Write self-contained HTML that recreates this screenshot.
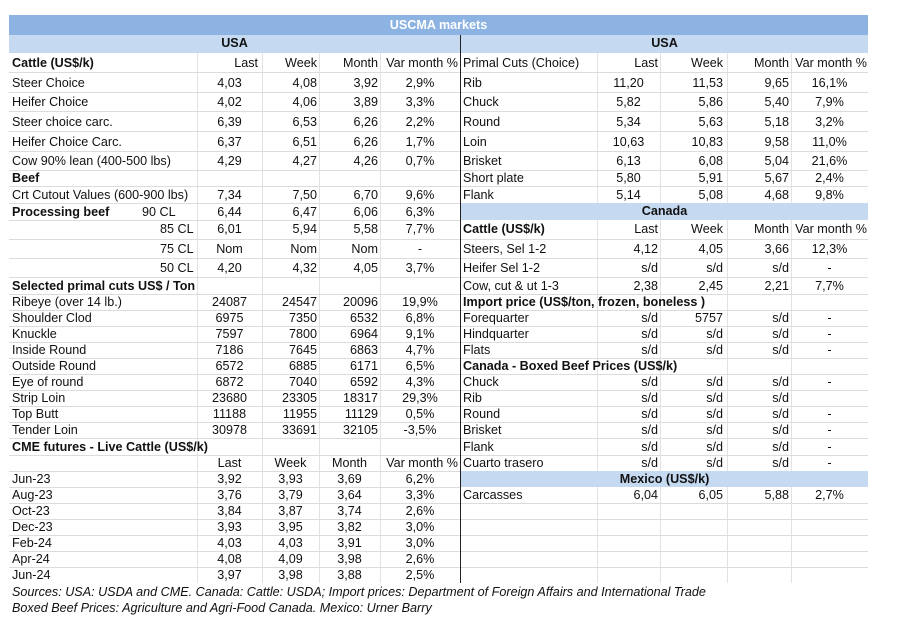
<!DOCTYPE html>
<html><head><meta charset="utf-8"><style>
body{margin:0;width:897px;height:633px;background:#fff;position:relative;font-family:"Liberation Sans",Arial,sans-serif;font-size:12.6px;color:#111;overflow:hidden}
.r{position:absolute;left:0;width:897px;height:16px;line-height:16px;z-index:3}
.r span{position:absolute;top:0;white-space:nowrap}
.a{left:12px}.b{left:197px;width:65px;text-align:center}.c{left:262px;width:55px;text-align:right}.d{left:319px;width:59px;text-align:right}.e{left:380px;width:80px;text-align:center}
.cc{left:262px;width:57px;text-align:center}.dc{left:319px;width:61px;text-align:center}
.A{left:463px}.B{left:597px;width:61px;text-align:right}.Bc{left:597px;width:63px;text-align:center}.C{left:660px;width:63px;text-align:right}.D{left:727px;width:62px;text-align:right}.E{left:791px;width:77px;text-align:center}
.bo{font-weight:bold}
.h{position:absolute;height:1px;background:#dcdcdc}
.v{position:absolute;width:1px;background:#e2e2e2}
.band{position:absolute;background:#c5d9f1;text-align:center;font-weight:bold;line-height:17px;z-index:2}
</style></head><body>
<div style="position:absolute;left:9px;top:15px;width:859px;height:20px;background:#8db3e2;color:#fff;font-weight:bold;text-align:center;line-height:20px">USCMA markets</div>
<div class="band" style="left:9px;top:35px;width:451px;height:18px">USA</div>
<div class="band" style="left:461px;top:35px;width:407px;height:18px">USA</div>
<div class="band" style="left:461px;top:203px;width:407px;height:17px">Canada</div>
<div class="band" style="left:461px;top:471px;width:407px;height:16px">Mexico (US$/k)</div>
<div class="v" style="left:197px;top:53px;height:530px"></div>
<div class="v" style="left:262px;top:53px;height:530px"></div>
<div class="v" style="left:319px;top:53px;height:530px"></div>
<div class="v" style="left:380px;top:53px;height:530px"></div>
<div class="v" style="left:597px;top:53px;height:530px"></div>
<div class="v" style="left:660px;top:53px;height:530px"></div>
<div class="v" style="left:727px;top:53px;height:530px"></div>
<div class="v" style="left:791px;top:53px;height:530px"></div>
<div style="position:absolute;left:460px;top:35px;width:1px;height:548px;background:#222;z-index:4"></div>
<div class="h" style="left:9px;top:72px;width:451px"></div><div class="h" style="left:9px;top:92px;width:451px"></div><div class="h" style="left:9px;top:111px;width:451px"></div><div class="h" style="left:9px;top:131px;width:451px"></div><div class="h" style="left:9px;top:151px;width:451px"></div><div class="h" style="left:9px;top:170px;width:451px"></div><div class="h" style="left:9px;top:186px;width:451px"></div><div class="h" style="left:9px;top:203px;width:451px"></div><div class="h" style="left:9px;top:220px;width:451px"></div><div class="h" style="left:9px;top:239px;width:451px"></div><div class="h" style="left:9px;top:258px;width:451px"></div><div class="h" style="left:9px;top:277px;width:451px"></div><div class="h" style="left:9px;top:294px;width:451px"></div><div class="h" style="left:9px;top:310px;width:451px"></div><div class="h" style="left:9px;top:326px;width:451px"></div><div class="h" style="left:9px;top:342px;width:451px"></div><div class="h" style="left:9px;top:358px;width:451px"></div><div class="h" style="left:9px;top:374px;width:451px"></div><div class="h" style="left:9px;top:390px;width:451px"></div><div class="h" style="left:9px;top:406px;width:451px"></div><div class="h" style="left:9px;top:422px;width:451px"></div><div class="h" style="left:9px;top:438px;width:451px"></div><div class="h" style="left:9px;top:455px;width:451px"></div><div class="h" style="left:9px;top:471px;width:451px"></div><div class="h" style="left:9px;top:487px;width:451px"></div><div class="h" style="left:9px;top:503px;width:451px"></div><div class="h" style="left:9px;top:519px;width:451px"></div><div class="h" style="left:9px;top:535px;width:451px"></div><div class="h" style="left:9px;top:551px;width:451px"></div><div class="h" style="left:9px;top:567px;width:451px"></div>
<div class="h" style="left:461px;top:72px;width:407px"></div><div class="h" style="left:461px;top:92px;width:407px"></div><div class="h" style="left:461px;top:111px;width:407px"></div><div class="h" style="left:461px;top:131px;width:407px"></div><div class="h" style="left:461px;top:151px;width:407px"></div><div class="h" style="left:461px;top:170px;width:407px"></div><div class="h" style="left:461px;top:186px;width:407px"></div><div class="h" style="left:461px;top:239px;width:407px"></div><div class="h" style="left:461px;top:258px;width:407px"></div><div class="h" style="left:461px;top:277px;width:407px"></div><div class="h" style="left:461px;top:294px;width:407px"></div><div class="h" style="left:461px;top:310px;width:407px"></div><div class="h" style="left:461px;top:326px;width:407px"></div><div class="h" style="left:461px;top:342px;width:407px"></div><div class="h" style="left:461px;top:358px;width:407px"></div><div class="h" style="left:461px;top:374px;width:407px"></div><div class="h" style="left:461px;top:390px;width:407px"></div><div class="h" style="left:461px;top:406px;width:407px"></div><div class="h" style="left:461px;top:422px;width:407px"></div><div class="h" style="left:461px;top:438px;width:407px"></div><div class="h" style="left:461px;top:455px;width:407px"></div><div class="h" style="left:461px;top:503px;width:407px"></div><div class="h" style="left:461px;top:519px;width:407px"></div><div class="h" style="left:461px;top:535px;width:407px"></div><div class="h" style="left:461px;top:551px;width:407px"></div><div class="h" style="left:461px;top:567px;width:407px"></div>

<div class="r" style="top:55px"><span class="a bo">Cattle (US$/k)</span><span class="c" style="left:197px;width:61px">Last</span><span class="c">Week</span><span class="d">Month</span><span class="e" style="left:382px;width:76px;text-align:right">Var month %</span></div>
<div class="r" style="top:75px"><span class="a">Steer Choice</span><span class="b">4,03</span><span class="c">4,08</span><span class="d">3,92</span><span class="e">2,9%</span></div>
<div class="r" style="top:94px"><span class="a">Heifer Choice</span><span class="b">4,02</span><span class="c">4,06</span><span class="d">3,89</span><span class="e">3,3%</span></div>
<div class="r" style="top:114px"><span class="a">Steer choice carc.</span><span class="b">6,39</span><span class="c">6,53</span><span class="d">6,26</span><span class="e">2,2%</span></div>
<div class="r" style="top:134px"><span class="a">Heifer Choice Carc.</span><span class="b">6,37</span><span class="c">6,51</span><span class="d">6,26</span><span class="e">1,7%</span></div>
<div class="r" style="top:153px"><span class="a">Cow 90% lean (400-500 lbs)</span><span class="b">4,29</span><span class="c">4,27</span><span class="d">4,26</span><span class="e">0,7%</span></div>
<div class="r" style="top:170px"><span class="a bo">Beef</span></div>
<div class="r" style="top:187px"><span class="a">Crt Cutout Values (600-900 lbs)</span><span class="b">7,34</span><span class="c">7,50</span><span class="d">6,70</span><span class="e">9,6%</span></div>
<div class="r" style="top:204px"><span class="a bo">Processing beef</span><span style="left:142px">90 CL</span><span class="b">6,44</span><span class="c">6,47</span><span class="d">6,06</span><span class="e">6,3%</span></div>
<div class="r" style="top:221px"><span style="left:160px">85 CL</span><span class="b">6,01</span><span class="c">5,94</span><span class="d">5,58</span><span class="e">7,7%</span></div>
<div class="r" style="top:241px"><span style="left:160px">75 CL</span><span class="b">Nom</span><span class="c">Nom</span><span class="d">Nom</span><span class="e">-</span></div>
<div class="r" style="top:260px"><span style="left:160px">50 CL</span><span class="b">4,20</span><span class="c">4,32</span><span class="d">4,05</span><span class="e">3,7%</span></div>
<div class="r" style="top:278px"><span class="a bo">Selected primal cuts US$ / Ton</span></div>
<div class="r" style="top:294px"><span class="a">Ribeye (over 14 lb.)</span><span class="b">24087</span><span class="c">24547</span><span class="d">20096</span><span class="e">19,9%</span></div>
<div class="r" style="top:310px"><span class="a">Shoulder Clod</span><span class="b">6975</span><span class="c">7350</span><span class="d">6532</span><span class="e">6,8%</span></div>
<div class="r" style="top:326px"><span class="a">Knuckle</span><span class="b">7597</span><span class="c">7800</span><span class="d">6964</span><span class="e">9,1%</span></div>
<div class="r" style="top:342px"><span class="a">Inside Round</span><span class="b">7186</span><span class="c">7645</span><span class="d">6863</span><span class="e">4,7%</span></div>
<div class="r" style="top:358px"><span class="a">Outside Round</span><span class="b">6572</span><span class="c">6885</span><span class="d">6171</span><span class="e">6,5%</span></div>
<div class="r" style="top:374px"><span class="a">Eye of round</span><span class="b">6872</span><span class="c">7040</span><span class="d">6592</span><span class="e">4,3%</span></div>
<div class="r" style="top:390px"><span class="a">Strip Loin</span><span class="b">23680</span><span class="c">23305</span><span class="d">18317</span><span class="e">29,3%</span></div>
<div class="r" style="top:406px"><span class="a">Top Butt</span><span class="b">11188</span><span class="c">11955</span><span class="d">11129</span><span class="e">0,5%</span></div>
<div class="r" style="top:422px"><span class="a">Tender Loin</span><span class="b">30978</span><span class="c">33691</span><span class="d">32105</span><span class="e">-3,5%</span></div>
<div class="r" style="top:439px"><span class="a bo">CME futures - Live Cattle (US$/k)</span></div>
<div class="r" style="top:455px"><span class="b">Last</span><span class="cc">Week</span><span class="dc">Month</span><span class="e" style="left:382px;width:76px;text-align:right">Var month %</span></div>
<div class="r" style="top:471px"><span class="a">Jun-23</span><span class="b">3,92</span><span class="cc">3,93</span><span class="dc">3,69</span><span class="e">6,2%</span></div>
<div class="r" style="top:487px"><span class="a">Aug-23</span><span class="b">3,76</span><span class="cc">3,79</span><span class="dc">3,64</span><span class="e">3,3%</span></div>
<div class="r" style="top:503px"><span class="a">Oct-23</span><span class="b">3,84</span><span class="cc">3,87</span><span class="dc">3,74</span><span class="e">2,6%</span></div>
<div class="r" style="top:519px"><span class="a">Dec-23</span><span class="b">3,93</span><span class="cc">3,95</span><span class="dc">3,82</span><span class="e">3,0%</span></div>
<div class="r" style="top:535px"><span class="a">Feb-24</span><span class="b">4,03</span><span class="cc">4,03</span><span class="dc">3,91</span><span class="e">3,0%</span></div>
<div class="r" style="top:551px"><span class="a">Apr-24</span><span class="b">4,08</span><span class="cc">4,09</span><span class="dc">3,98</span><span class="e">2,6%</span></div>
<div class="r" style="top:567px"><span class="a">Jun-24</span><span class="b">3,97</span><span class="cc">3,98</span><span class="dc">3,88</span><span class="e">2,5%</span></div>
<div class="r" style="top:584px;font-style:italic"><span class="a">Sources: USA: USDA and CME. Canada: Cattle: USDA; Import prices: Department of Foreign Affairs and International Trade</span></div>
<div class="r" style="top:600px;font-style:italic"><span class="a">Boxed Beef Prices: Agriculture and Agri-Food Canada. Mexico: Urner Barry</span></div>

<div class="r" style="top:55px"><span class="A">Primal Cuts (Choice)</span><span class="B">Last</span><span class="C">Week</span><span class="D">Month</span><span class="E" style="text-align:right;width:76px">Var month %</span></div>
<div class="r" style="top:75px"><span class="A">Rib</span><span class="Bc">11,20</span><span class="C">11,53</span><span class="D">9,65</span><span class="E">16,1%</span></div>
<div class="r" style="top:94px"><span class="A">Chuck</span><span class="Bc">5,82</span><span class="C">5,86</span><span class="D">5,40</span><span class="E">7,9%</span></div>
<div class="r" style="top:114px"><span class="A">Round</span><span class="Bc">5,34</span><span class="C">5,63</span><span class="D">5,18</span><span class="E">3,2%</span></div>
<div class="r" style="top:134px"><span class="A">Loin</span><span class="Bc">10,63</span><span class="C">10,83</span><span class="D">9,58</span><span class="E">11,0%</span></div>
<div class="r" style="top:153px"><span class="A">Brisket</span><span class="Bc">6,13</span><span class="C">6,08</span><span class="D">5,04</span><span class="E">21,6%</span></div>
<div class="r" style="top:170px"><span class="A">Short plate</span><span class="Bc">5,80</span><span class="C">5,91</span><span class="D">5,67</span><span class="E">2,4%</span></div>
<div class="r" style="top:187px"><span class="A">Flank</span><span class="Bc">5,14</span><span class="C">5,08</span><span class="D">4,68</span><span class="E">9,8%</span></div>
<div class="r" style="top:221px"><span class="A bo">Cattle (US$/k)</span><span class="B">Last</span><span class="C">Week</span><span class="D">Month</span><span class="E" style="text-align:right;width:76px">Var month %</span></div>
<div class="r" style="top:241px"><span class="A">Steers, Sel 1-2</span><span class="B">4,12</span><span class="C">4,05</span><span class="D">3,66</span><span class="E">12,3%</span></div>
<div class="r" style="top:260px"><span class="A">Heifer Sel 1-2</span><span class="B">s/d</span><span class="C">s/d</span><span class="D">s/d</span><span class="E">-</span></div>
<div class="r" style="top:278px"><span class="A">Cow, cut &amp; ut 1-3</span><span class="B">2,38</span><span class="C">2,45</span><span class="D">2,21</span><span class="E">7,7%</span></div>
<div class="r" style="top:294px"><span class="A bo">Import price (US$/ton, frozen, boneless )</span></div>
<div class="r" style="top:310px"><span class="A">Forequarter</span><span class="B">s/d</span><span class="C">5757</span><span class="D">s/d</span><span class="E">-</span></div>
<div class="r" style="top:326px"><span class="A">Hindquarter</span><span class="B">s/d</span><span class="C">s/d</span><span class="D">s/d</span><span class="E">-</span></div>
<div class="r" style="top:342px"><span class="A">Flats</span><span class="B">s/d</span><span class="C">s/d</span><span class="D">s/d</span><span class="E">-</span></div>
<div class="r" style="top:358px"><span class="A bo">Canada - Boxed Beef Prices (US$/k)</span></div>
<div class="r" style="top:374px"><span class="A">Chuck</span><span class="B">s/d</span><span class="C">s/d</span><span class="D">s/d</span><span class="E">-</span></div>
<div class="r" style="top:390px"><span class="A">Rib</span><span class="B">s/d</span><span class="C">s/d</span><span class="D">s/d</span></div>
<div class="r" style="top:406px"><span class="A">Round</span><span class="B">s/d</span><span class="C">s/d</span><span class="D">s/d</span><span class="E">-</span></div>
<div class="r" style="top:422px"><span class="A">Brisket</span><span class="B">s/d</span><span class="C">s/d</span><span class="D">s/d</span><span class="E">-</span></div>
<div class="r" style="top:439px"><span class="A">Flank</span><span class="B">s/d</span><span class="C">s/d</span><span class="D">s/d</span><span class="E">-</span></div>
<div class="r" style="top:455px"><span class="A">Cuarto trasero</span><span class="B">s/d</span><span class="C">s/d</span><span class="D">s/d</span><span class="E">-</span></div>
<div class="r" style="top:487px"><span class="A">Carcasses</span><span class="B">6,04</span><span class="C">6,05</span><span class="D">5,88</span><span class="E">2,7%</span></div>
</body></html>
